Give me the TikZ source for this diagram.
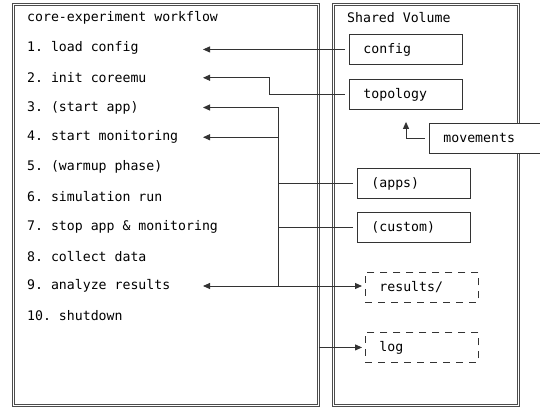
\documentclass[tikz,border=0pt]{standalone}
\usepackage{fontspec}
\setmonofont{DejaVu Sans Mono}
\usetikzlibrary{calc,positioning,arrows.meta}

\tikzset{
  dblbox/.style={draw=black!70,line width=0.9pt,double=white,double distance=1.3pt,inner sep=0pt},
  volbox/.style={draw=black!80,line width=0.9pt,fill=white,minimum height=30pt,text width=85pt,
    align=left,inner xsep=14pt,inner ysep=0pt,font=\ttfamily\fontsize{13.2}{15}\selectfont},
  tmpbox/.style={volbox,dash pattern=on 7pt off 6pt},
  wire/.style={draw=black!80,line width=0.9pt},
  arr/.style={wire,-{Triangle[length=7pt,width=6pt]}},
  item/.style={anchor=west,inner sep=0pt,text=black,font=\ttfamily\fontsize{13.2}{15}\selectfont}
}

\begin{document}
\begin{tikzpicture}[x=1pt,y=-1pt]

  \useasboundingbox (0,0) rectangle (540,409);
  \clip (0,0) rectangle (540,409);

  % the two outer frames
  \node [dblbox,minimum width=305pt,minimum height=401pt,anchor=north west] at(13,4) (wf_box) {};
  \node [dblbox,minimum width=185pt,minimum height=401pt,anchor=north west] at(333,4) (vol_box) {};

  \node [item] at(27,18) (wf_title) {core-experiment workflow};
  \node [item] at(347,18) (vol_title) {Shared Volume};

  % workflow steps
  \foreach \n/\txt in {1/1. load config,2/2. init coreemu,3/3. (start app),
      4/4. start monitoring,5/5. (warmup phase),6/6. simulation run,
      7/7. stop app \& monitoring,8/8. collect data,9/9. analyze results,10/10. shutdown}{
    \pgfmathsetmacro{\ycoor}{48+29.75*(\n-1)}% row of the step
    \node [item] at(27,\ycoor) (step_\n) {\txt};
    \coordinate (tip_\n) at(203,\ycoor);
  }

  % contents of the shared volume
  \node [volbox,anchor=north west] at(349,34) (config) {config};
  \node [volbox,anchor=north west] at(349,79) (topology) {topology};
  \node [volbox,anchor=north west,text width=102pt] at(429,123) (movements) {movements};
  \node [volbox,anchor=north west] at(357,168) (apps) {(apps)};
  \node [volbox,anchor=north west] at(357,212) (custom) {(custom)};
  \node [tmpbox,anchor=north west,inner xsep=14pt] at(365,272) (results) {results/};
  \node [tmpbox,anchor=north west,inner xsep=14pt] at(365,332) (log) {log};

  \coordinate (bend_topo) at(269,0);
  \coordinate (bus) at(278,0);
  \coordinate (bend_mov) at(406,0);

  % connectors
  \draw[arr,shorten <=4pt] (config.west) -- (config.west -| tip_1);
  \draw[arr,shorten <=4pt] (topology.west) -- (topology.west -| bend_topo) |- (tip_2);

  \draw[wire] (bus |- tip_3) -- (bus |- tip_9);
  \draw[arr] (bus |- tip_3) -- (tip_3);
  \draw[arr] (bus |- tip_4) -- (tip_4);
  \draw[wire,shorten <=4pt] (apps.west) -- (apps.west -| bus);
  \draw[wire,shorten <=4pt] (custom.west) -- (custom.west -| bus);
  \draw[arr,{Triangle[length=7pt,width=6pt]}-{Triangle[length=7pt,width=6pt]},shorten >=3pt]
    (tip_9) -- (tip_9 -| results.west);

  \draw[arr,shorten >=3pt] (wf_box.east |- log.west) -- (log.west);

  \draw[arr,shorten <=4pt] (movements.west) -| ($(bend_mov |- topology.south)+(0,12)$);

\end{tikzpicture}
\end{document}
